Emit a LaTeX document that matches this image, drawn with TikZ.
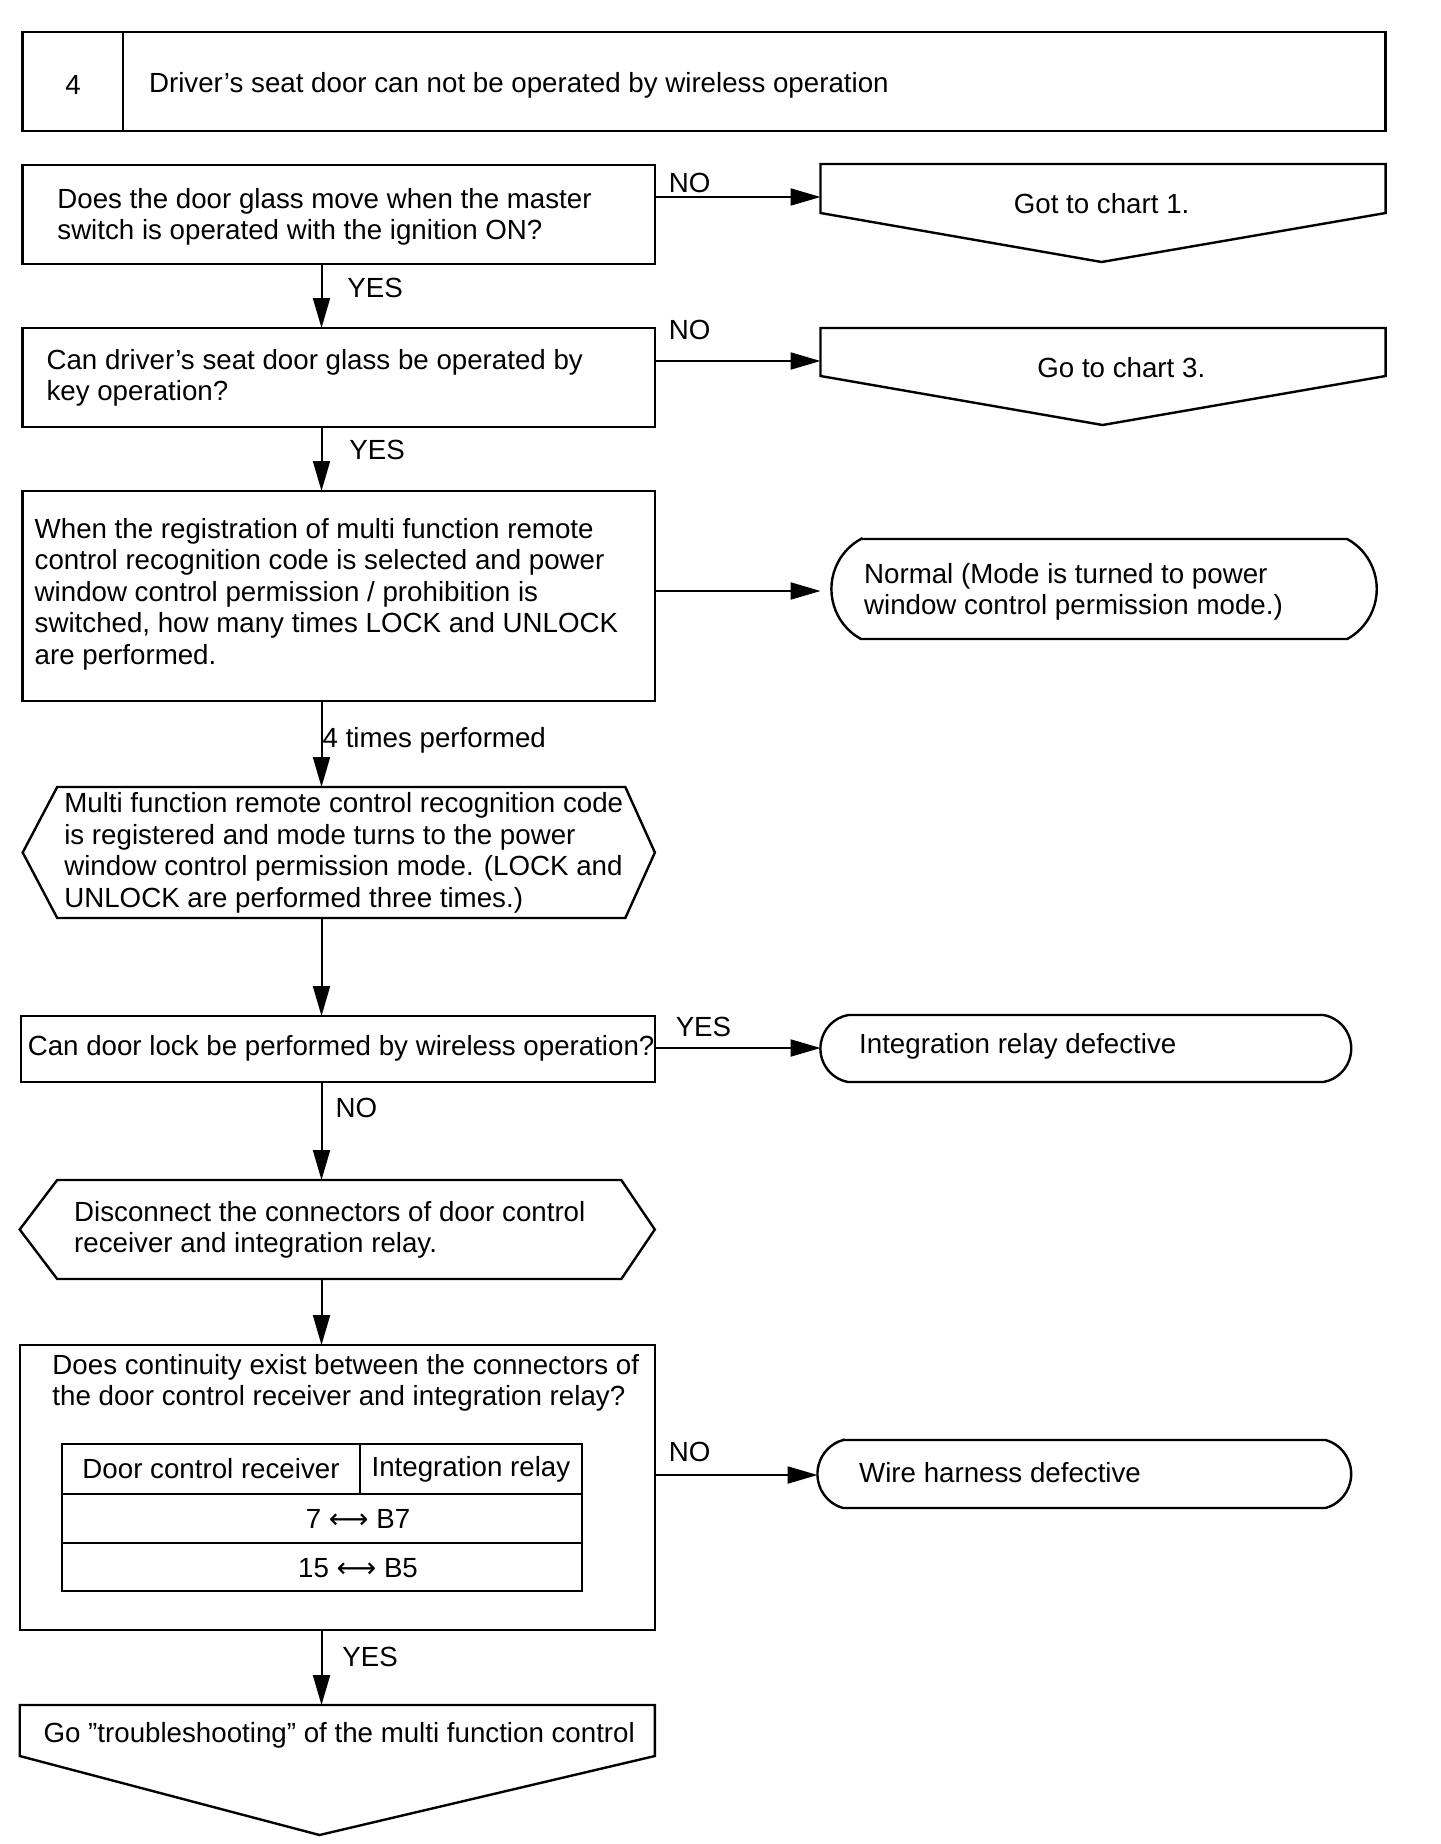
\documentclass[tikz,border=0pt]{standalone}
\usepackage{fontspec}
\setmainfont{Liberation Sans}
\newfontfamily\symfnt{DejaVu Sans}
\usetikzlibrary{arrows.meta}
\begin{document}
\begin{tikzpicture}[x=0.9862pt,y=1pt,
  txt/.style={inner sep=0pt, align=left, font=\fontsize{27.7}{31.5}\selectfont},
  plain/.style={inner sep=0pt, outer sep=0pt, anchor=north west},
  boxnode/.style={plain, draw, line width=2.4pt},
  cellnode/.style={plain, draw, line width=2pt},
  shapeline/.style={line width=2.4pt, line join=miter},
  conn/.style={line width=2pt, -{Triangle[length=30pt, width=17pt]}},
  lbl/.style={txt, anchor=west}
]
\useasboundingbox (0,0) rectangle (1460.15,-1844);
\fill[white] (0,0) rectangle (1460.15,-1844);

% header
\node[boxnode, minimum width=100.6pt, minimum height=99pt] (hnum) at (23,-32) {};
\node[boxnode, minimum width=1262.3pt, minimum height=99pt] (htxt) at (125,-32) {};
\node[txt] (hnumt) at (74,-85) {4};
\node[lbl] (htxtt) at (151,-85) {Driver’s seat door can not be operated by wireless operation};

% box 1
\node[boxnode, minimum width=632.2pt, minimum height=99pt] (b1) at (23,-165) {};
\node[lbl] (b1t) at (58,-217) {Does the door glass move when the master\\switch is operated with the ignition ON?};

% chart 1 connector
\node[plain, minimum width=565.1pt, minimum height=49pt] (g1) at (832,-164) {};
\coordinate (g1tip) at (1117,-262);
\draw[shapeline] (g1.south west) -- (g1.north west) -- (g1.north east) -- (g1.south east) -- (g1tip) -- cycle;
\node[txt] (g1t) at (1117,-204) {Got to chart 1.};

% box 2
\node[boxnode, minimum width=632.2pt, minimum height=99pt] (b2) at (23,-328) {};
\node[lbl] (b2t) at (47,-378) {Can driver’s seat door glass be operated by\\key operation?};

% chart 3 connector
\node[plain, minimum width=565.1pt, minimum height=48pt] (g3) at (832,-328) {};
\coordinate (g3tip) at (1118,-425);
\draw[shapeline] (g3.south west) -- (g3.north west) -- (g3.north east) -- (g3.south east) -- (g3tip) -- cycle;
\node[txt] (g3t) at (1137,-368) {Go to chart 3.};

% box 3
\node[boxnode, minimum width=632.2pt, minimum height=210pt] (b3) at (23,-491) {};
\node[lbl] (b3t) at (35,-594) {When the registration of multi function remote\\control recognition code is selected and power\\window control permission / prohibition is\\switched, how many times LOCK and UNLOCK\\are performed.};

% normal terminal
\node[plain, minimum width=545.4pt, minimum height=100pt] (nm) at (843,-539) {};
\draw[shapeline] ([xshift=29.6pt]nm.north west) -- ([xshift=-29.6pt]nm.north east)
  arc[start angle=61.9, end angle=-61.9, radius=56.7] -- ([xshift=29.6pt]nm.south west)
  arc[start angle=241.9, end angle=118.1, radius=56.7] -- cycle;
\node[lbl] (nmt) at (876,-592) {Normal (Mode is turned to power\\window control permission mode.)};

% box 4 (hexagon)
\node[plain, minimum width=568.1pt, minimum height=131pt] (b4) at (58,-787) {};
\draw[shapeline] (b4.north west) -- (b4.north east) -- ([xshift=29.6pt]b4.east) -- (b4.south east)
  -- (b4.south west) -- ([xshift=-34.5pt]b4.west) -- cycle;
\node[lbl] (b4t) at (65,-853) {Multi function remote control recognition code\\is registered and mode turns to the power\\window control permission mode. (LOCK and\\UNLOCK are performed three times.)};

% box 5
\node[boxnode, minimum width=634.1pt, minimum height=66pt] (b5) at (21,-1016) {};
\node[lbl] (b5t) at (28,-1048) {Can door lock be performed by wireless operation?};

% integration relay terminal
\node[plain, minimum width=530.6pt, minimum height=67pt] (ir) at (832,-1015) {};
\draw[shapeline] ([xshift=27.6pt]ir.north west) -- ([xshift=-27.6pt]ir.north east)
  arc[start angle=80, end angle=-80, radius=34.0] -- ([xshift=27.6pt]ir.south west)
  arc[start angle=260, end angle=100, radius=34.0] -- cycle;
\node[lbl] (irt) at (871,-1046) {Integration relay defective};

% box 6 (hexagon)
\node[plain, minimum width=564.1pt, minimum height=99pt] (b6) at (58,-1180) {};
\draw[shapeline] (b6.north west) -- (b6.north east) -- ([xshift=33.5pt]b6.east) -- (b6.south east)
  -- (b6.south west) -- ([xshift=-37.5pt]b6.west) -- cycle;
\node[lbl] (b6t) at (75,-1230) {Disconnect the connectors of door control\\receiver and integration relay.};

% box 7 with table
\node[boxnode, minimum width=635.1pt, minimum height=285pt] (b7) at (20,-1345) {};
\node[lbl] (b7t) at (53,-1383) {Does continuity exist between the connectors of\\the door control receiver and integration relay?};
\node[cellnode, minimum width=297.8pt, minimum height=50pt] (c11) at (63,-1444) {};
\node[cellnode, minimum width=221.9pt, minimum height=50pt] (c12) at (365,-1444) {};
\node[cellnode, minimum width=519.7pt, minimum height=49pt] (c2) at (63,-1494) {};
\node[cellnode, minimum width=519.7pt, minimum height=48pt] (c3) at (63,-1543) {};
\node[txt] (c11t) at (c11.center) {Door control receiver};
\node[txt] (c12t) at (c12.center) {Integration relay};
\node[txt] (c2t) at (363,-1519) {7 {\symfnt ⟷} B7};
\node[txt] (c3t) at (363,-1568) {15 {\symfnt ⟷} B5};

% wire harness terminal
\node[plain, minimum width=533.5pt, minimum height=68pt] (wh) at (829,-1440) {};
\draw[shapeline] ([xshift=25.6pt]wh.north west) -- ([xshift=-25.6pt]wh.north east)
  arc[start angle=75, end angle=-75, radius=35.2] -- ([xshift=25.6pt]wh.south west)
  arc[start angle=255, end angle=105, radius=35.2] -- cycle;
\node[lbl] (wht) at (871,-1473) {Wire harness defective};

% box 8 (off-page connector)
\node[plain, minimum width=635.1pt, minimum height=51pt] (b8) at (20,-1705) {};
\coordinate (b8tip) at (324,-1835);
\draw[shapeline] (b8.south west) -- (b8.north west) -- (b8.north east) -- (b8.south east) -- (b8tip) -- cycle;
\node[lbl] (b8t) at (44,-1735) {Go ”troubleshooting” of the multi function control};

% connectors
\coordinate (ax) at (326,0);
\coordinate (y1) at (0,-197);
\coordinate (y2) at (0,-361);
\coordinate (y3) at (0,-591);
\coordinate (y5) at (0,-1048);
\coordinate (y7) at (0,-1475);
\draw[conn] (b1.south -| ax) -- (b2.north -| ax);
\draw[conn] (b2.south -| ax) -- (b3.north -| ax);
\draw[conn] (b3.south -| ax) -- (b4.north -| ax);
\draw[conn] (b4.south -| ax) -- (b5.north -| ax);
\draw[conn] (b5.south -| ax) -- (b6.north -| ax);
\draw[conn] (b6.south -| ax) -- (b7.north -| ax);
\draw[conn] (b7.south -| ax) -- (b8.north -| ax);
\draw[conn] (b1.east |- y1) -- (g1.west |- y1);
\draw[conn] (b2.east |- y2) -- (g3.west |- y2);
\draw[conn, shorten >=10.8pt] (b3.east |- y3) -- (nm.west |- y3);
\draw[conn] (b5.east |- y5) -- (ir.west |- y5);
\draw[conn] (b7.east |- y7) -- (wh.west |- y7);

% connector labels
\node[lbl] (l1) at (678,-183) {NO};
\node[lbl] (l2) at (352,-288) {YES};
\node[lbl] (l3) at (678,-330) {NO};
\node[lbl] (l4) at (354,-450) {YES};
\node[lbl] (l5) at (327,-740) {4 times performed};
\node[lbl] (l6) at (685,-1027) {YES};
\node[lbl] (l7) at (340,-1108) {NO};
\node[lbl] (l8) at (678,-1452) {NO};
\node[lbl] (l9) at (347,-1657) {YES};
\end{tikzpicture}
\end{document}
